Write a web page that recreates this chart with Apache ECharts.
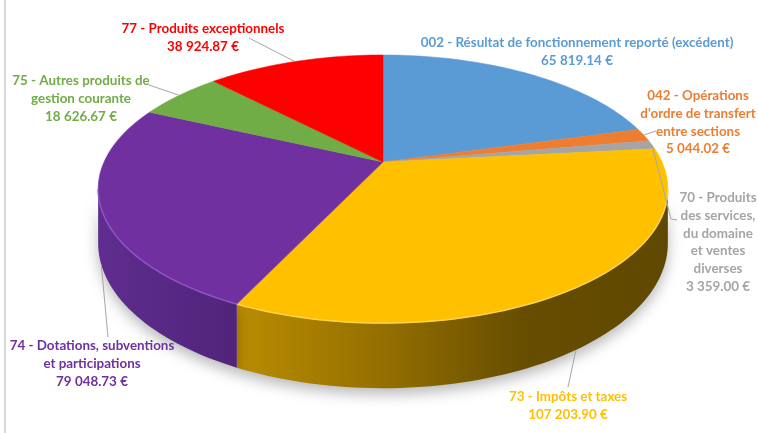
<!DOCTYPE html>
<html>
<head>
<meta charset="utf-8">
<script src="https://cdn.jsdelivr.net/npm/echarts@6.0.0/dist/echarts.min.js"></script>
<style>
html, body { margin: 0; padding: 0; background: #fff; }
#chart { width: 758px; height: 433px; }
</style>
</head>
<body>
<div id="chart"></div>
<script>
// ---- data ----
var categories = [
  '002 - Résultat de fonctionnement reporté (excédent)',
  "042 - Opérations d'ordre de transfert entre sections",
  '70 - Produits des services, du domaine et ventes diverses',
  '73 - Impôts et taxes',
  '74 - Dotations, subventions et participations',
  '75 - Autres produits de gestion courante',
  '77 - Produits exceptionnels'
];
var values = [65819.14, 5044.02, 3359.00, 107203.90, 79048.73, 18626.67, 38924.87];

// ---- styles / layout ----
var colors = ['#5B9BD5', '#ED7D31', '#A5A5A5', '#FFC000', '#7030A0', '#70AD47', '#FF0000'];
var sideStops = [
  ['#4a7fb0', '#3a6590'], ['#c2621f', '#9a4c15'], ['#8a8a8a', '#6e6e6e'],
  ['#b98c00', '#957000', '#664d00', '#5f4800'],
  ['#5f2d8f', '#51247a'],
  ['#5a8e38', '#47722b'], ['#cc0000', '#a00000']
];
var rimColors = ['#7fb3e0', '#f39a5c', '#c4c4c4', '#ffd34d', '#8d55c2', '#8fc46a', '#ff5050'];
// label text wrapping, first-line centre, leader end points
var labelText = [
  '002 - Résultat de fonctionnement reporté (excédent)',
  "042 - Opérations\nd'ordre de transfert\nentre sections",
  '70 - Produits\ndes services,\ndu domaine\net ventes\ndiverses',
  '73 - Impôts et taxes',
  '74 - Dotations, subventions\net participations',
  '75 - Autres produits de\ngestion courante',
  '77 - Produits exceptionnels'
];
var labelPos = [[577, 43], [698, 96], [718, 198], [568, 397], [92, 346], [81, 81], [203, 29]];
var leaderEnds = [null, [[656, 131]], [[671, 219], [677, 220]], [[568, 387]], [[108, 337]], [[149, 85]], [[249, 38]]];

var LABEL_FONT = 'Lato, sans-serif';
var LABEL_SIZE = 13.4;
var LINE_H = 17.7;

// projected pie geometry (perspective tilted disc)
var cx = 383, cy = 162, A = 279, B = 128.6, E = 0.2016, H = 52;
var SIDE_FROM = Math.acos(-E) * 180 / Math.PI;
var SIDE_TO = 360 - SIDE_FROM;

var total = values.reduce(function (a, b) { return a + b; }, 0);
var startDeg = [], endDeg = [];
(function () {
  var acc = 0;
  values.forEach(function (v) {
    startDeg.push(acc / total * 360);
    acc += v;
    endDeg.push(acc / total * 360);
  });
})();

function proj(deg, drop) {
  var r = deg * Math.PI / 180;
  var u = Math.sin(r), v = Math.cos(r);
  var d = 1 + E * v;
  return [cx + A * u / d, cy - B * v / d + (drop ? H / d : 0)];
}

function arc(a0, a1, drop) {
  var n = Math.max(2, Math.ceil(Math.abs(a1 - a0) / 1.5));
  var pts = [];
  for (var k = 0; k <= n; k++) pts.push(proj(a0 + (a1 - a0) * k / n, drop));
  return pts;
}

function fmt(v) {
  var s = v.toFixed(2).split('.');
  return s[0].replace(/\B(?=(\d{3})+(?!\d))/g, ' ') + '.' + s[1] + ' €';
}

function sideItem(params) {
  var i = params.dataIndex;
  var s = Math.max(startDeg[i], SIDE_FROM), t = Math.min(endDeg[i], SIDE_TO);
  if (s >= t) return { type: 'group', children: [] };
  var pts = arc(s, t, false).concat(arc(t, s, true));
  var st = sideStops[i];
  var stops = st.map(function (c, k) { return { offset: k / (st.length - 1), color: c }; });
  return {
    type: 'polygon',
    shape: { points: pts },
    style: {
      fill: new echarts.graphic.LinearGradient(0, 0, 1, 0, stops),
      shadowBlur: 14,
      shadowColor: 'rgba(0,0,0,0.28)',
      shadowOffsetY: 6
    }
  };
}

function topItem(params) {
  var i = params.dataIndex;
  var pts = [[cx, cy]].concat(arc(startDeg[i], endDeg[i], false));
  var children = [{
    type: 'polygon',
    shape: { points: pts },
    style: { fill: colors[i], stroke: colors[i], lineWidth: 0.5 }
  }];
  var s = Math.max(startDeg[i], SIDE_FROM), t = Math.min(endDeg[i], SIDE_TO);
  if (s < t) {
    children.push({
      type: 'polyline',
      shape: { points: arc(s, t, false) },
      style: { stroke: rimColors[i], lineWidth: 1.5, fill: null }
    });
  }
  return { type: 'group', children: children };
}

function labelItem(params) {
  var i = params.dataIndex;
  var children = [{
    type: 'text',
    x: labelPos[i][0],
    y: labelPos[i][1] - LINE_H / 2,
    style: {
      text: labelText[i] + '\n' + fmt(values[i]),
      fill: colors[i],
      fontFamily: LABEL_FONT,
      fontWeight: 'bold',
      fontSize: LABEL_SIZE,
      lineHeight: LINE_H,
      align: 'center',
      verticalAlign: 'top'
    }
  }];
  if (leaderEnds[i]) {
    var mid = (startDeg[i] + endDeg[i]) / 2;
    var onSide = mid > SIDE_FROM && mid < SIDE_TO;
    children.push({
      type: 'polyline',
      shape: { points: [proj(mid, onSide)].concat(leaderEnds[i]) },
      style: { stroke: '#a6a6a6', lineWidth: 1, fill: null }
    });
  }
  return { type: 'group', children: children };
}

var chart = echarts.init(document.getElementById('chart'));
chart.setOption({
  animation: false,
  backgroundColor: '#ffffff',
  graphic: [{
    type: 'line',
    shape: { x1: 5, y1: 0, x2: 5, y2: 433 },
    style: { stroke: '#d9d9d9', lineWidth: 2 }
  }],
  series: [
    { name: 'sides', type: 'custom', coordinateSystem: 'none', z: 1, data: values, renderItem: sideItem },
    { name: 'tops', type: 'custom', coordinateSystem: 'none', z: 2, data: values, renderItem: topItem },
    { name: 'labels', type: 'custom', coordinateSystem: 'none', z: 3, data: values, renderItem: labelItem }
  ]
});
</script>
</body>
</html>
